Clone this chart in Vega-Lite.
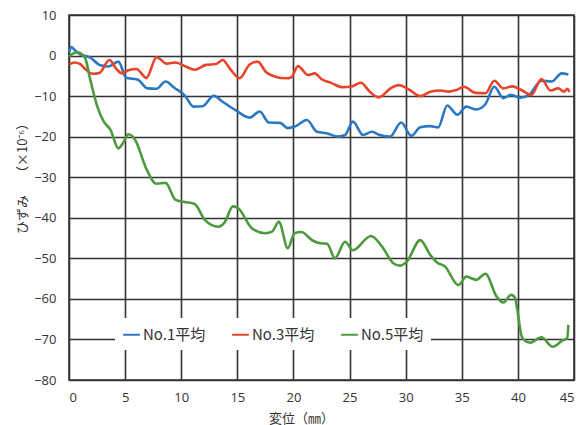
{
  "$schema": "https://vega.github.io/schema/vega-lite/v6.json",
  "width": 505,
  "height": 365,
  "autosize": {"type": "none"},
  "padding": {"left": 69, "top": 15, "right": 7, "bottom": 45},
  "background": "white",
  "config": {
    "view": {"stroke": "#333333", "strokeWidth": 1.6},
    "axis": {
      "domain": false,
      "ticks": false,
      "grid": true,
      "gridColor": "#333333",
      "gridWidth": 1.6,
      "gridOpacity": 1,
      "labelFont": "Open Sans",
      "labelFontSize": 13,
      "labelColor": "#333333",
      "titleFont": "Noto Sans CJK JP",
      "titleFontSize": 13,
      "titleFontWeight": "normal",
      "titleColor": "#333333"
    }
  },
  "data": {
    "values": [
      {"s": "No.1平均", "x": 0, "y": 0.8},
      {"s": "No.1平均", "x": 0.2, "y": 2.1},
      {"s": "No.1平均", "x": 0.6, "y": 1.1},
      {"s": "No.1平均", "x": 1.0, "y": 0.3},
      {"s": "No.1平均", "x": 1.9, "y": -0.5},
      {"s": "No.1平均", "x": 2.8, "y": -2.4},
      {"s": "No.1平均", "x": 3.5, "y": -2.7},
      {"s": "No.1平均", "x": 4.4, "y": -1.5},
      {"s": "No.1平均", "x": 5.1, "y": -5.5},
      {"s": "No.1平均", "x": 6.1, "y": -5.9},
      {"s": "No.1平均", "x": 7.0, "y": -8.1},
      {"s": "No.1平均", "x": 7.8, "y": -8.2},
      {"s": "No.1平均", "x": 8.6, "y": -6.4},
      {"s": "No.1平均", "x": 9.4, "y": -8.0},
      {"s": "No.1平均", "x": 10.3, "y": -9.8},
      {"s": "No.1平均", "x": 11.1, "y": -12.6},
      {"s": "No.1平均", "x": 11.9, "y": -12.5},
      {"s": "No.1平均", "x": 12.9, "y": -9.9},
      {"s": "No.1平均", "x": 13.6, "y": -11.2},
      {"s": "No.1平均", "x": 14.8, "y": -13.4},
      {"s": "No.1平均", "x": 16.1, "y": -15.3},
      {"s": "No.1平均", "x": 17.0, "y": -13.8},
      {"s": "No.1平均", "x": 17.8, "y": -16.5},
      {"s": "No.1平均", "x": 18.8, "y": -16.6},
      {"s": "No.1平均", "x": 19.5, "y": -17.9},
      {"s": "No.1平均", "x": 20.2, "y": -17.4},
      {"s": "No.1平均", "x": 21.2, "y": -15.9},
      {"s": "No.1平均", "x": 22.1, "y": -18.8},
      {"s": "No.1平均", "x": 23.0, "y": -19.2},
      {"s": "No.1平均", "x": 24.0, "y": -20},
      {"s": "No.1平均", "x": 24.6, "y": -19.6},
      {"s": "No.1平均", "x": 25.3, "y": -16.3},
      {"s": "No.1平均", "x": 26.2, "y": -19.6},
      {"s": "No.1平均", "x": 27.0, "y": -18.8},
      {"s": "No.1平均", "x": 27.7, "y": -19.6},
      {"s": "No.1平均", "x": 28.6, "y": -20},
      {"s": "No.1平均", "x": 29.6, "y": -16.5},
      {"s": "No.1平均", "x": 30.5, "y": -19.8},
      {"s": "No.1平均", "x": 31.3, "y": -17.7},
      {"s": "No.1平均", "x": 32.2, "y": -17.4},
      {"s": "No.1平均", "x": 32.9, "y": -17.7},
      {"s": "No.1平均", "x": 33.7, "y": -12.3},
      {"s": "No.1平均", "x": 34.6, "y": -14.6},
      {"s": "No.1平均", "x": 35.4, "y": -12.6},
      {"s": "No.1平均", "x": 36.3, "y": -13.3},
      {"s": "No.1平均", "x": 37.1, "y": -12.0},
      {"s": "No.1平均", "x": 37.9, "y": -7.7},
      {"s": "No.1平均", "x": 38.7, "y": -10.5},
      {"s": "No.1平均", "x": 39.4, "y": -9.7},
      {"s": "No.1平均", "x": 40.2, "y": -10.4},
      {"s": "No.1平均", "x": 41.0, "y": -9.7},
      {"s": "No.1平均", "x": 42.1, "y": -6.2},
      {"s": "No.1平均", "x": 43.0, "y": -6.4},
      {"s": "No.1平均", "x": 43.9, "y": -4.4},
      {"s": "No.1平均", "x": 44.5, "y": -4.7},
      {"s": "No.3平均", "x": 0, "y": -2.2},
      {"s": "No.3平均", "x": 0.5, "y": -1.7},
      {"s": "No.3平均", "x": 1.0, "y": -2.1},
      {"s": "No.3平均", "x": 1.4, "y": -3.2},
      {"s": "No.3平均", "x": 2.1, "y": -4.5},
      {"s": "No.3平均", "x": 2.7, "y": -4.3},
      {"s": "No.3平均", "x": 3.6, "y": -1.1},
      {"s": "No.3平均", "x": 4.2, "y": -3.2},
      {"s": "No.3平均", "x": 4.7, "y": -4.4},
      {"s": "No.3平均", "x": 5.3, "y": -3.6},
      {"s": "No.3平均", "x": 6.0, "y": -3.3},
      {"s": "No.3平均", "x": 6.9, "y": -5.5},
      {"s": "No.3平均", "x": 7.8, "y": -0.4},
      {"s": "No.3平均", "x": 8.7, "y": -2.0},
      {"s": "No.3平均", "x": 9.5, "y": -1.7},
      {"s": "No.3平均", "x": 10.4, "y": -2.7},
      {"s": "No.3平均", "x": 11.2, "y": -3.5},
      {"s": "No.3平均", "x": 12.2, "y": -2.3},
      {"s": "No.3平均", "x": 13.1, "y": -2.1},
      {"s": "No.3平均", "x": 13.7, "y": -1.1},
      {"s": "No.3平均", "x": 14.3, "y": -3.1},
      {"s": "No.3平均", "x": 15.2, "y": -5.6},
      {"s": "No.3平均", "x": 16.1, "y": -2.2},
      {"s": "No.3平均", "x": 16.8, "y": -1.5},
      {"s": "No.3平均", "x": 17.6, "y": -4.2},
      {"s": "No.3平均", "x": 18.4, "y": -5.2},
      {"s": "No.3平均", "x": 19.3, "y": -5.6},
      {"s": "No.3平均", "x": 19.8, "y": -5.4},
      {"s": "No.3平均", "x": 20.4, "y": -2.6},
      {"s": "No.3平均", "x": 21.3, "y": -4.8},
      {"s": "No.3平均", "x": 21.9, "y": -4.4},
      {"s": "No.3平均", "x": 22.5, "y": -5.8},
      {"s": "No.3平均", "x": 23.4, "y": -6.8},
      {"s": "No.3平均", "x": 24.4, "y": -7.8},
      {"s": "No.3平均", "x": 25.1, "y": -7.7},
      {"s": "No.3平均", "x": 26.0, "y": -6.7},
      {"s": "No.3平均", "x": 26.8, "y": -8.9},
      {"s": "No.3平均", "x": 27.6, "y": -10.3},
      {"s": "No.3平均", "x": 28.7, "y": -8.0},
      {"s": "No.3平均", "x": 29.4, "y": -7.3},
      {"s": "No.3平均", "x": 30.2, "y": -8.2},
      {"s": "No.3平均", "x": 31.3, "y": -10.0},
      {"s": "No.3平均", "x": 32.2, "y": -8.9},
      {"s": "No.3平均", "x": 33.1, "y": -8.6},
      {"s": "No.3平均", "x": 33.8, "y": -8.9},
      {"s": "No.3平均", "x": 34.5, "y": -8.5},
      {"s": "No.3平均", "x": 35.2, "y": -7.7},
      {"s": "No.3平均", "x": 36.2, "y": -9.2},
      {"s": "No.3平均", "x": 37.1, "y": -9.3},
      {"s": "No.3平均", "x": 37.9, "y": -6.2},
      {"s": "No.3平均", "x": 38.7, "y": -8.1},
      {"s": "No.3平均", "x": 39.5, "y": -7.6},
      {"s": "No.3平均", "x": 40.3, "y": -8.5},
      {"s": "No.3平均", "x": 41.2, "y": -9.7},
      {"s": "No.3平均", "x": 42.1, "y": -5.8},
      {"s": "No.3平均", "x": 42.9, "y": -8.6},
      {"s": "No.3平均", "x": 43.6, "y": -8.1},
      {"s": "No.3平均", "x": 44.1, "y": -8.9},
      {"s": "No.3平均", "x": 44.4, "y": -8.2},
      {"s": "No.3平均", "x": 44.6, "y": -9.0},
      {"s": "No.5平均", "x": 0, "y": -0.2},
      {"s": "No.5平均", "x": 0.7, "y": 0.8},
      {"s": "No.5平均", "x": 1.4, "y": -0.4},
      {"s": "No.5平均", "x": 1.9, "y": -6},
      {"s": "No.5平均", "x": 2.5, "y": -12.4},
      {"s": "No.5平均", "x": 3.1, "y": -16.3},
      {"s": "No.5平均", "x": 3.7, "y": -18.3},
      {"s": "No.5平均", "x": 4.4, "y": -22.9},
      {"s": "No.5平均", "x": 4.8, "y": -21.6},
      {"s": "No.5平均", "x": 5.3, "y": -19.4},
      {"s": "No.5平均", "x": 5.9, "y": -20.8},
      {"s": "No.5平均", "x": 6.9, "y": -28.0},
      {"s": "No.5平均", "x": 7.8, "y": -31.6},
      {"s": "No.5平均", "x": 8.6, "y": -31.4},
      {"s": "No.5平均", "x": 9.5, "y": -35.6},
      {"s": "No.5平均", "x": 10.3, "y": -36.1},
      {"s": "No.5平均", "x": 11.2, "y": -36.6},
      {"s": "No.5平均", "x": 12.1, "y": -40.5},
      {"s": "No.5平均", "x": 13.3, "y": -42.2},
      {"s": "No.5平均", "x": 13.9, "y": -41.0},
      {"s": "No.5平均", "x": 14.6, "y": -37.2},
      {"s": "No.5平均", "x": 15.1, "y": -37.7},
      {"s": "No.5平均", "x": 16.3, "y": -42.6},
      {"s": "No.5平均", "x": 17.5, "y": -43.8},
      {"s": "No.5平均", "x": 18.1, "y": -43.4},
      {"s": "No.5平均", "x": 18.7, "y": -41.0},
      {"s": "No.5平均", "x": 19.5, "y": -47.5},
      {"s": "No.5平均", "x": 20.1, "y": -43.8},
      {"s": "No.5平均", "x": 20.7, "y": -43.5},
      {"s": "No.5平均", "x": 21.7, "y": -45.6},
      {"s": "No.5平均", "x": 22.4, "y": -46.3},
      {"s": "No.5平均", "x": 23.0, "y": -46.4},
      {"s": "No.5平均", "x": 23.7, "y": -50},
      {"s": "No.5平均", "x": 24.6, "y": -45.9},
      {"s": "No.5平均", "x": 25.3, "y": -48},
      {"s": "No.5平均", "x": 26.9, "y": -44.5},
      {"s": "No.5平均", "x": 27.9, "y": -47.1},
      {"s": "No.5平均", "x": 28.9, "y": -51.2},
      {"s": "No.5平均", "x": 29.5, "y": -51.8},
      {"s": "No.5平均", "x": 30.1, "y": -50.8},
      {"s": "No.5平均", "x": 31.3, "y": -45.5},
      {"s": "No.5平均", "x": 32.2, "y": -49.2},
      {"s": "No.5平均", "x": 32.8, "y": -51.0},
      {"s": "No.5平均", "x": 33.5, "y": -52},
      {"s": "No.5平均", "x": 34.7, "y": -56.6},
      {"s": "No.5平均", "x": 35.4, "y": -54.5},
      {"s": "No.5平均", "x": 36.3, "y": -55.3},
      {"s": "No.5平均", "x": 37.1, "y": -53.8},
      {"s": "No.5平均", "x": 38.1, "y": -59.4},
      {"s": "No.5平均", "x": 38.7, "y": -60.9},
      {"s": "No.5平均", "x": 39.4, "y": -59},
      {"s": "No.5平均", "x": 39.7, "y": -59.5},
      {"s": "No.5平均", "x": 40.4, "y": -69.7},
      {"s": "No.5平均", "x": 41.1, "y": -70.8},
      {"s": "No.5平均", "x": 42.1, "y": -69.5},
      {"s": "No.5平均", "x": 43.1, "y": -71.8},
      {"s": "No.5平均", "x": 44.0, "y": -70.2},
      {"s": "No.5平均", "x": 44.4, "y": -69.7},
      {"s": "No.5平均", "x": 44.5, "y": -66.4}
    ]
  },
  "mark": {"type": "line", "strokeWidth": 2.6, "interpolate": "monotone"},
  "encoding": {
    "x": {
      "field": "x",
      "type": "quantitative",
      "scale": {"domain": [0, 45], "nice": false, "zero": false},
      "axis": {
        "values": [0, 5, 10, 15, 20, 25, 30, 35, 40, 45],
        "labelPadding": 11,
        "title": "変位（㎜）",
        "titleX": 232,
        "titleY": 38,
        "titleBaseline": "middle",
        "titleAnchor": null
      }
    },
    "y": {
      "field": "y",
      "type": "quantitative",
      "scale": {"domain": [-80, 10], "nice": false, "zero": false},
      "axis": {
        "values": [-80, -70, -60, -50, -40, -30, -20, -10, 0, 10],
        "labelPadding": 13,
        "title": "ひずみ　 （×10⁻⁶）",
        "titleAngle": 270,
        "titleX": -47,
        "titleY": 160,
        "titleAlign": "center",
        "titleBaseline": "middle"
      }
    },
    "color": {
      "field": "s",
      "type": "nominal",
      "scale": {
        "domain": ["No.1平均", "No.3平均", "No.5平均"],
        "range": ["#2b78c2", "#e8442c", "#4d9a3e"]
      },
      "legend": {
        "title": null,
        "orient": "none",
        "direction": "horizontal",
        "legendX": 46,
        "legendY": 303,
        "fillColor": "white",
        "padding": 7,
        "symbolType": "stroke",
        "symbolSize": 280,
        "symbolStrokeWidth": 2,
        "labelFont": "Noto Sans CJK JP",
        "labelFontSize": 15,
        "labelColor": "#333333",
        "labelOffset": 2,
        "columnPadding": 22
      }
    }
  }
}
